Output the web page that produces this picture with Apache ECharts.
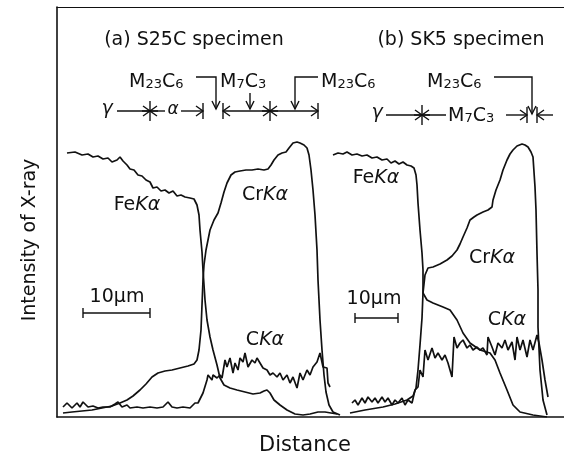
<!DOCTYPE html>
<html>
<head>
<meta charset="utf-8">
<script src="https://cdn.jsdelivr.net/npm/echarts@6/dist/echarts.min.js"></script>
<style>
html, body { margin: 0; padding: 0; background: #fff; }
#chart { width: 564px; height: 465px; }
</style>
</head>
<body>
<div id="chart"></div>
<script>
// line-scan profiles, distance / intensity in arbitrary units
var feA = [[10,264],[18,265],[25,262],[31,263],[36,260],[41,261],[46,258],[51,259],[55,255],[60,257],[63,260],[66,256],[70,252],[73,248],[77,247],[81,242],[85,241],[89,237],[93,235],[96,229],[100,230],[104,226],[108,227],[112,224],[116,226],[120,221],[124,222],[128,220],[133,219],[137,218],[140,212],[142,202],[143,187],[145,165],[146,147],[148,117],[150,97],[153,80],[156,67],[160,52],[163,39],[167,32],[173,29],[180,27],[188,25],[196,23],[203,24],[207,26],[210,27],[213,24],[217,17],[223,12],[230,7],[238,3],[246,2],[253,3],[261,5],[268,5],[274,4],[280,3]];
var crA = [[6,4],[15,5],[25,6],[35,7],[45,9],[55,11],[63,14],[70,17],[76,21],[83,27],[89,33],[95,40],[101,44],[108,46],[115,47],[123,49],[131,51],[137,53],[140,57],[142,67],[144,87],[145,112],[146,137],[147,152],[149,167],[151,177],[153,187],[157,197],[161,204],[164,214],[167,225],[170,234],[174,242],[178,245],[183,246],[189,247],[195,247],[201,248],[207,247],[211,248],[214,252],[217,257],[221,262],[225,264],[229,265],[232,269],[236,274],[240,275],[243,274],[247,272],[250,269],[252,262],[254,247],[256,227],[258,202],[260,167],[261,137],[263,97],[265,67],[267,42],[269,25],[272,12],[276,5],[283,2]];
var cA = [[6,10],[10,14],[15,9],[20,14],[23,10],[26,15],[31,10],[36,11],[41,9],[46,10],[53,10],[58,13],[61,15],[65,10],[70,12],[73,9],[80,10],[86,9],[93,10],[100,9],[106,10],[111,15],[115,10],[120,9],[126,10],[133,9],[138,14],[141,14],[146,24],[150,37],[151,42],[155,37],[156,42],[160,39],[163,42],[165,39],[168,57],[170,50],[173,59],[176,44],[178,54],[181,47],[183,59],[186,55],[188,64],[191,50],[195,57],[198,54],[200,59],[203,54],[206,49],[210,47],[213,42],[216,44],[220,40],[223,44],[226,37],[230,42],[233,34],[236,40],[240,29],[243,44],[246,37],[250,47],[253,42],[256,50],[260,55],[263,64],[266,50],[270,49],[271,34],[273,30]];
var feB = [[276,262],[281,264],[286,263],[290,265],[295,262],[300,263],[305,261],[310,262],[315,259],[320,260],[325,257],[330,258],[334,254],[338,256],[342,253],[346,255],[350,252],[354,251],[357,249],[359,242],[360,232],[361,214],[363,187],[365,164],[366,147],[366,124],[370,117],[376,114],[381,112],[386,110],[393,107],[400,97],[406,84],[413,74],[423,67],[433,64],[438,57],[443,44],[450,27],[456,12],[463,5],[476,2],[490,0]];
var crB = [[293,4],[308,7],[326,10],[338,13],[350,17],[356,21],[359,29],[361,47],[363,72],[365,99],[366,124],[368,142],[371,149],[376,150],[383,153],[390,157],[395,161],[400,167],[403,173],[406,180],[410,189],[413,197],[417,200],[420,202],[426,205],[431,207],[435,210],[436,217],[439,227],[443,237],[446,247],[450,257],[453,263],[456,267],[460,271],[465,273],[468,272],[471,270],[474,265],[476,260],[478,230],[479,207],[480,164],[481,127],[481,90],[483,47],[486,17],[490,2]];
var cB = [[295,14],[298,17],[301,12],[305,19],[308,14],[311,20],[315,15],[318,19],[321,14],[325,20],[328,15],[331,19],[335,12],[338,17],[341,14],[345,19],[348,12],[351,17],[355,14],[358,27],[361,30],[363,47],[366,40],[368,67],[371,57],[375,69],[378,59],[381,64],[385,57],[388,62],[391,54],[395,40],[397,80],[400,69],[403,74],[406,77],[410,69],[413,72],[416,67],[420,70],[423,67],[426,69],[430,62],[431,80],[435,70],[438,62],[441,74],[445,69],[448,77],[451,67],[455,75],[458,57],[460,80],[463,67],[466,77],[470,60],[473,77],[476,67],[480,82],[482,74],[485,57],[488,37],[491,20]];

var ink = '#111';
var font = 'DejaVu Sans';

function curve(name, data) {
	return {
		name: name,
		type: 'line',
		data: data,
		symbol: 'none',
		showSymbol: false,
		animation: false,
		lineStyle: { color: ink, width: 1.7 }
	};
}

function seg(x1, y1, x2, y2) {
	return { type: 'line', shape: { x1: x1, y1: y1, x2: x2, y2: y2 }, style: { stroke: ink, lineWidth: 1.4 } };
}
function poly(pts) {
	return { type: 'polyline', shape: { points: pts }, style: { stroke: ink, lineWidth: 1.4, fill: null } };
}
function headR(x, y) { return poly([[x - 7, y - 5], [x, y], [x - 7, y + 5]]); }
function headL(x, y) { return poly([[x + 7, y - 5], [x, y], [x + 7, y + 5]]); }
function headD(x, y) { return poly([[x - 4, y - 8], [x, y], [x + 4, y - 8]]); }
function bar(x, y) { return seg(x, y - 8, x, y + 8); }
function star(x, y) {
	return [seg(x, y - 10, x, y + 10), headR(x, y), headL(x, y), seg(x - 8, y, x + 8, y)];
}
function txt(x, y, text, size, extra) {
	var s = { text: text, x: x, y: y, fill: ink, fontFamily: font, fontSize: size, align: 'center', verticalAlign: 'middle' };
	for (var k in extra) s[k] = extra[k];
	return { type: 'text', style: s };
}
var richM = {
	b: { fontFamily: font, fontSize: 19, fill: ink },
	s: { fontFamily: font, fontSize: 13, fill: ink, padding: [5, 0, 0, 0] },
	i: { fontFamily: font, fontSize: 19, fill: ink, fontStyle: 'italic' }
};
function phase(x, y, m, n1, c, n2) {
	return txt(x, y, '{b|' + m + '}{s|' + n1 + '}{b|' + c + '}{s|' + n2 + '}', 19, { rich: richM, align: 'left' });
}
function kalpha(x, y, el) {
	return txt(x, y, '{b|' + el + '}{i|K\u03b1}', 19, { rich: richM });
}
function scaleBar(x1, x2, y) {
	return [seg(x1, y, x2, y), seg(x1, y - 5, x1, y + 5), seg(x2, y - 5, x2, y + 5)];
}

var g = [];
// panel titles
g.push(txt(194, 40, '(a) S25C specimen', 19));
g.push(txt(461, 40, '(b) SK5 specimen', 19));

// (a) phase row
var ya = 111;
g.push(txt(107, ya - 2, '\u03b3', 19, { fontStyle: 'italic' }));
g.push(seg(117, ya, 150, ya));
g = g.concat(star(150, ya));
g.push(seg(150, ya, 165, ya));
g.push(txt(173, ya - 1, '\u03b1', 17, { fontStyle: 'italic' }));
g.push(seg(181, ya, 203, ya), headR(203, ya), bar(203, ya));
g.push(bar(223, ya), headL(223, ya), seg(223, ya, 318, ya));
g = g.concat(star(270, ya));
g.push(headR(318, ya), bar(318, ya));
g.push(phase(129, 82, 'M', '23', 'C', '6'));
g.push(poly([[196, 77], [216, 77], [216, ya - 2]]), headD(216, ya - 2));
g.push(phase(220, 82, 'M', '7', 'C', '3'));
g.push(seg(250, 93, 250, ya - 2), headD(250, ya - 2));
g.push(phase(321, 82, 'M', '23', 'C', '6'));
g.push(poly([[318, 77], [295, 77], [295, ya - 2]]), headD(295, ya - 2));

// (b) phase row
var yb = 115;
g.push(txt(377, yb - 2, '\u03b3', 19, { fontStyle: 'italic' }));
g.push(seg(386, yb, 446, yb));
g = g.concat(star(422, yb));
g.push(phase(448, yb + 1, 'M', '7', 'C', '3'));
g.push(seg(506, yb, 527, yb), headR(527, yb), bar(527, yb));
g.push(bar(537, yb), headL(537, yb), seg(537, yb, 553, yb));
g.push(phase(427, 82, 'M', '23', 'C', '6'));
g.push(poly([[494, 77], [532, 77], [532, yb - 1]]), headD(532, yb - 1));

// curve labels
g.push(kalpha(137, 205, 'Fe'));
g.push(kalpha(265, 195, 'Cr'));
g.push(kalpha(265, 340, 'C'));
g.push(kalpha(376, 178, 'Fe'));
g.push(kalpha(492, 258, 'Cr'));
g.push(kalpha(507, 320, 'C'));

// 10 um scale bars
g.push(txt(117, 297, '10\u03bcm', 19));
g = g.concat(scaleBar(83, 150, 313));
g.push(txt(374, 299, '10\u03bcm', 19));
g = g.concat(scaleBar(355, 398, 318));

// axis titles
g.push({ type: 'text', x: 30, y: 240, rotation: Math.PI / 2,
	style: { text: 'Intensity of X-ray', fill: ink, fontFamily: font, fontSize: 19, align: 'center', verticalAlign: 'middle' } });
g.push(txt(305, 446, 'Distance', 21));

var chart = echarts.init(document.getElementById('chart'));
var option = {
	backgroundColor: '#fff',
	animation: false,
	grid: { left: 57, right: 0, top: 7, bottom: 48 },
	xAxis: [
		{
			type: 'value', min: 0, max: 507,
			axisLine: { show: true, lineStyle: { color: ink, width: 1.6 } },
			axisTick: { show: false }, axisLabel: { show: false }, splitLine: { show: false }
		},
		{
			type: 'value', min: 0, max: 507, position: 'top',
			axisLine: { show: true, lineStyle: { color: ink, width: 1.2 } },
			axisTick: { show: false }, axisLabel: { show: false }, splitLine: { show: false }
		}
	],
	yAxis: {
		type: 'value', min: 0, max: 410,
		axisLine: { show: true, lineStyle: { color: ink, width: 1.6 } },
		axisTick: { show: false }, axisLabel: { show: false }, splitLine: { show: false }
	},
	series: [
		curve('FeKα (a)', feA),
		curve('CrKα (a)', crA),
		curve('CKα (a)', cA),
		curve('FeKα (b)', feB),
		curve('CrKα (b)', crB),
		curve('CKα (b)', cB)
	],
	graphic: g
};
chart.setOption(option);
</script>
</body>
</html>
